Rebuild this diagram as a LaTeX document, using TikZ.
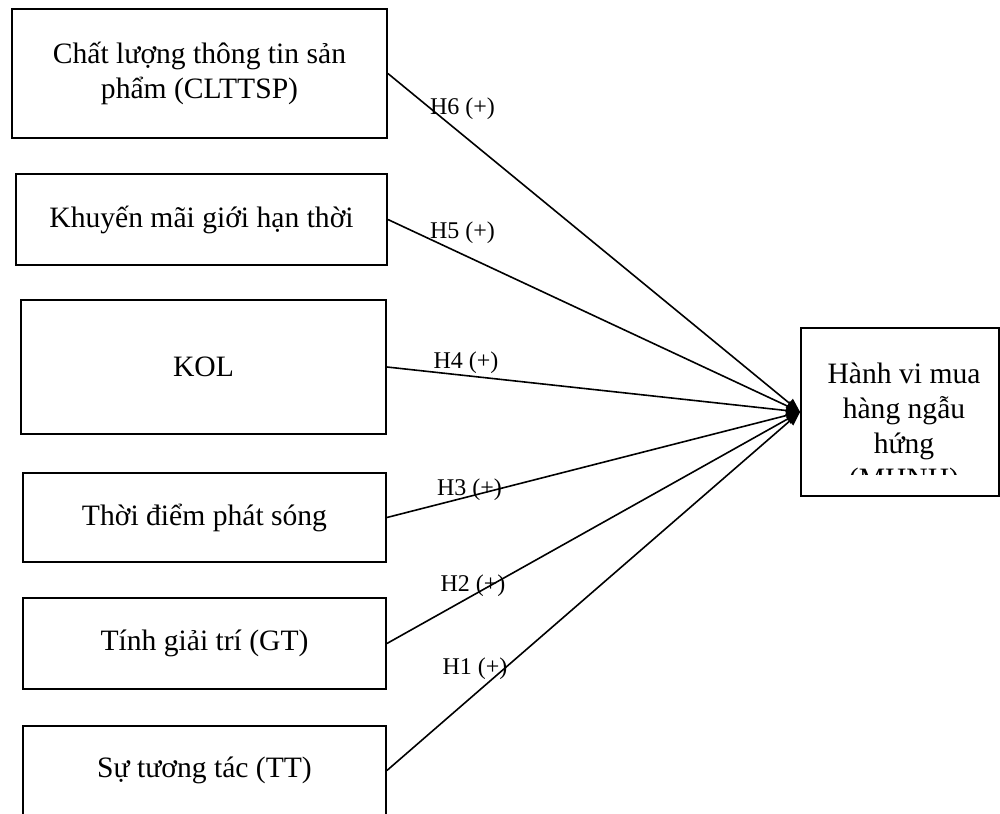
\documentclass[tikz,border=0pt]{standalone}
\usepackage{fontspec}
\setmainfont{Liberation Serif}
\usetikzlibrary{arrows.meta,positioning}

\begin{document}
\begin{tikzpicture}[x=0.5pt, y=-0.5pt,
    factor/.style={draw, line width=0.9pt, align=center, inner sep=0pt, font=\fontsize{14.8}{17.5}\selectfont},
    hyp/.style={anchor=base, inner sep=0pt, font=\fontsize{12}{14}\selectfont},
    link/.style={line width=0.8pt, -{Triangle[length=7pt,width=5.5pt]}}]
    \useasboundingbox (0,0) rectangle (1000,813);
    % independent factors
    \node[factor, minimum width=187.5pt, minimum height=64.5pt] (clttsp) at (199.5,73.5) {Chất lượng thông tin sản\\phẩm (CLTTSP)};
    \node[factor, minimum width=185.5pt, minimum height=45.5pt] (kmgh) at (201.5,219.5) {Khuyến mãi giới hạn thời};
    \node[factor, minimum width=182.5pt, minimum height=67pt] (kol) at (203.5,367) {KOL};
    \node[factor, minimum width=181.5pt, minimum height=44.5pt] (tdps) at (204.5,517.5) {Thời điểm phát sóng};
    \node[factor, minimum width=181.5pt, minimum height=45.5pt] (gt) at (204.5,643.5) {Tính giải trí (GT)};
    \node[factor, minimum width=181.5pt, minimum height=44.5pt] (tt) at (204.5,770.5) {Sự tương tác (TT)};
    % dependent
    \node[factor, minimum width=99pt, minimum height=84pt] (mhnh) at (900,412) {};
    \begin{scope}
        \clip (mhnh.north west) rectangle (999,474);
        \node[factor, draw=none, anchor=base] (mhnhtext) at (904,488) {Hành vi mua\\hàng ngẫu\\hứng\\(MHNH)};
    \end{scope}
    % hypotheses
    \draw[link] (clttsp.east) -- (mhnh.west);
    \draw[link] (kmgh.east) -- (mhnh.west);
    \draw[link] (kol.east) -- (mhnh.west);
    \draw[link] (tdps.east) -- (mhnh.west);
    \draw[link] (gt.east) -- (mhnh.west);
    \draw[link] (tt.east) -- (mhnh.west);
    \node[hyp] (h6) at (462.5,114) {H6 (+)};
    \node[hyp] (h5) at (462.5,238) {H5 (+)};
    \node[hyp] (h4) at (466,368) {H4 (+)};
    \node[hyp] (h3) at (469.5,495) {H3 (+)};
    \node[hyp] (h2) at (473,591) {H2 (+)};
    \node[hyp] (h1) at (475,674) {H1 (+)};
\end{tikzpicture}
\end{document}
